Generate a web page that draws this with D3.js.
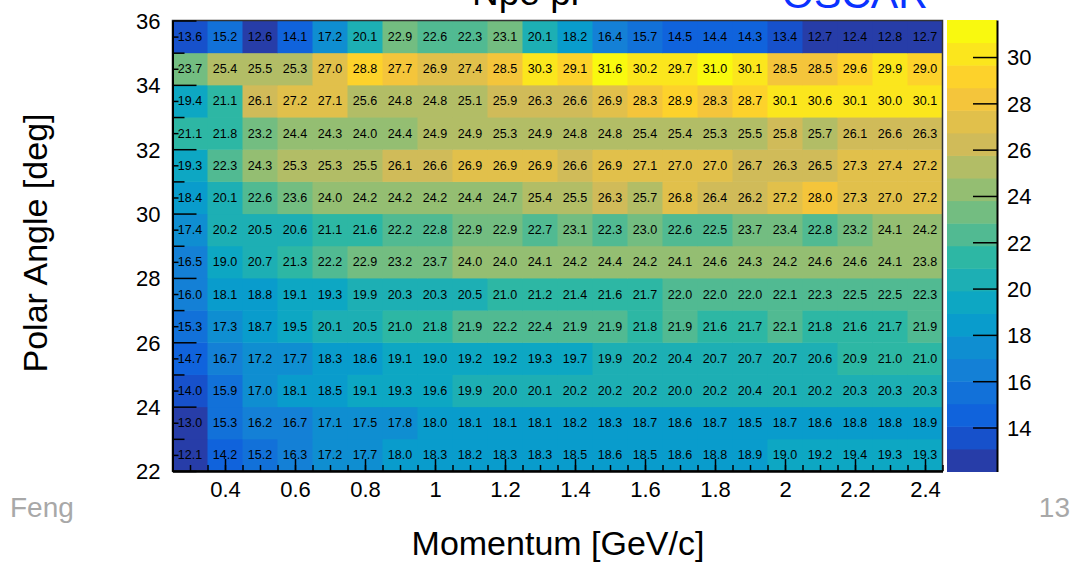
<!DOCTYPE html>
<html><head><meta charset="utf-8">
<script src="https://cdn.jsdelivr.net/npm/d3@7"></script>
<style>
html,body{margin:0;padding:0;background:#fff;}
svg{display:block;font-family:"Liberation Sans",Arial,Helvetica,sans-serif;}
</style></head>
<body>
<svg id="c" width="1076" height="562"></svg>
<script>
// Momentum bin centres [GeV/c] and polar angle bin centres [deg]
const momentum = [0.3,0.4,0.5,0.6,0.7,0.8,0.9,1.0,1.1,1.2,1.3,1.4,1.5,1.6,1.7,1.8,1.9,2.0,2.1,2.2,2.3,2.4];
const angles = [22.5,23.5,24.5,25.5,26.5,27.5,28.5,29.5,30.5,31.5,32.5,33.5,34.5,35.5];
// Npe per angle row (bottom to top)
const npe22 = [12.1,14.2,15.2,16.3,17.2,17.7,18.0,18.3,18.2,18.3,18.3,18.5,18.6,18.5,18.6,18.8,18.9,19.0,19.2,19.4,19.3,19.3];
const npe23 = [13.0,15.3,16.2,16.7,17.1,17.5,17.8,18.0,18.1,18.1,18.1,18.2,18.3,18.7,18.6,18.7,18.5,18.7,18.6,18.8,18.8,18.9];
const npe24 = [14.0,15.9,17.0,18.1,18.5,19.1,19.3,19.6,19.9,20.0,20.1,20.2,20.2,20.2,20.0,20.2,20.4,20.1,20.2,20.3,20.3,20.3];
const npe25 = [14.7,16.7,17.2,17.7,18.3,18.6,19.1,19.0,19.2,19.2,19.3,19.7,19.9,20.2,20.4,20.7,20.7,20.7,20.6,20.9,21.0,21.0];
const npe26 = [15.3,17.3,18.7,19.5,20.1,20.5,21.0,21.8,21.9,22.2,22.4,21.9,21.9,21.8,21.9,21.6,21.7,22.1,21.8,21.6,21.7,21.9];
const npe27 = [16.0,18.1,18.8,19.1,19.3,19.9,20.3,20.3,20.5,21.0,21.2,21.4,21.6,21.7,22.0,22.0,22.0,22.1,22.3,22.5,22.5,22.3];
const npe28 = [16.5,19.0,20.7,21.3,22.2,22.9,23.2,23.7,24.0,24.0,24.1,24.2,24.4,24.2,24.1,24.6,24.3,24.2,24.6,24.6,24.1,23.8];
const npe29 = [17.4,20.2,20.5,20.6,21.1,21.6,22.2,22.8,22.9,22.9,22.7,23.1,22.3,23.0,22.6,22.5,23.7,23.4,22.8,23.2,24.1,24.2];
const npe30 = [18.4,20.1,22.6,23.6,24.0,24.2,24.2,24.2,24.4,24.7,25.4,25.5,26.3,25.7,26.8,26.4,26.2,27.2,28.0,27.3,27.0,27.2];
const npe31 = [19.3,22.3,24.3,25.3,25.3,25.5,26.1,26.6,26.9,26.9,26.9,26.6,26.9,27.1,27.0,27.0,26.7,26.3,26.5,27.3,27.4,27.2];
const npe32 = [21.1,21.8,23.2,24.4,24.3,24.0,24.4,24.9,24.9,25.3,24.9,24.8,24.8,25.4,25.4,25.3,25.5,25.8,25.7,26.1,26.6,26.3];
const npe33 = [19.4,21.1,26.1,27.2,27.1,25.6,24.8,24.8,25.1,25.9,26.3,26.6,26.9,28.3,28.9,28.3,28.7,30.1,30.6,30.1,30.0,30.1];
const npe34 = [23.7,25.4,25.5,25.3,27.0,28.8,27.7,26.9,27.4,28.5,30.3,29.1,31.6,30.2,29.7,31.0,30.1,28.5,28.5,29.6,29.9,29.0];
const npe35 = [13.6,15.2,12.6,14.1,17.2,20.1,22.9,22.6,22.3,23.1,20.1,18.2,16.4,15.7,14.5,14.4,14.3,13.4,12.7,12.4,12.8,12.7];
const rows = [npe22,npe23,npe24,npe25,npe26,npe27,npe28,npe29,npe30,npe31,npe32,npe33,npe34,npe35];
const xTickLabels = [0.4,0.6,0.8,1,1.2,1.4,1.6,1.8,2,2.2,2.4];
const yTickLabels = [22,24,26,28,30,32,34,36];
const zTickLabels = [14,16,18,20,22,24,26,28,30];

// ROOT kBird palette
const stops = [0.0,0.125,0.25,0.375,0.5,0.625,0.75,0.875,1.0];
const red   = [0.2082,0.0592,0.0780,0.0232,0.1802,0.5301,0.8186,0.9956,0.9764];
const green = [0.1664,0.3599,0.5041,0.6419,0.7178,0.7492,0.7328,0.7862,0.9832];
const blue  = [0.5293,0.8684,0.8385,0.7914,0.6425,0.4662,0.3499,0.1968,0.0539];
function bird(t){
  let g=1; while(g<stops.length-1 && t>stops[g]) g++;
  const f=(t-stops[g-1])/(stops[g]-stops[g-1]);
  const c=a=>Math.round(255*(a[g-1]+f*(a[g]-a[g-1])));
  return `rgb(${c(red)},${c(green)},${c(blue)})`;
}
const allVals = rows.flat();
const zmin = d3.min(allVals), zmax = d3.max(allVals);
const nLev = 20, dz = (zmax-zmin)/nLev;
const bandColor = i => bird(Math.floor((i+0.99)*255/nLev)/255);
const band = v => Math.min(nLev-1, Math.max(0, Math.floor(0.01+(v-zmin)/dz)));

const svg = d3.select("#c");
const L=172.5, R=942.5, T=20.5, B=471;
const x = d3.scaleLinear().domain([0.25,2.45]).range([L,R]);
const y = d3.scaleLinear().domain([22,36]).range([B,T]);
const z = d3.scaleLinear().domain([zmin,zmax]).range([471.5,20]);

// cells
const cells = [];
rows.forEach((r,j)=>r.forEach((v,i)=>cells.push({p:momentum[i],a:angles[j],v})));
const g = svg.append("g");
g.selectAll("rect").data(cells).join("rect")
  .attr("x",d=>x(d.p-0.05)).attr("y",d=>y(d.a+0.5))
  .attr("width",d=>x(d.p+0.05)-x(d.p-0.05)+0.5).attr("height",d=>y(d.a-0.5)-y(d.a+0.5)+0.5)
  .attr("fill",d=>bandColor(band(d.v)));
g.selectAll("text").data(cells).join("text")
  .attr("x",d=>x(d.p)).attr("y",d=>y(d.a)).attr("dy","0.36em")
  .attr("text-anchor","middle").attr("font-size",12.5).attr("fill","#000")
  .text(d=>d.v.toFixed(1));

// frame
svg.append("rect").attr("x",L).attr("y",T).attr("width",R-L).attr("height",B-T)
  .attr("fill","none").attr("stroke","#333").attr("stroke-width",1.5);

function styleAxis(sel, fs){
  sel.selectAll("path").attr("stroke","#000").attr("stroke-width",2);
  sel.selectAll("line").attr("stroke","#000").attr("stroke-width",1.5);
  sel.selectAll("text").attr("font-size",fs).attr("fill","#000").attr("font-family","'Liberation Sans',Arial,Helvetica,sans-serif");
}
// x axis
const xMinor = d3.range(0.3,2.451,0.05).map(v=>+v.toFixed(2));
const ax1 = svg.append("g").attr("transform",`translate(0,${B})`)
  .call(d3.axisBottom(x).tickValues(xMinor).tickSizeInner(-6).tickSizeOuter(0).tickFormat(""));
styleAxis(ax1,0);
const ax2 = svg.append("g").attr("transform",`translate(0,${B})`)
  .call(d3.axisBottom(x).tickValues(xTickLabels).tickSizeInner(-12).tickSizeOuter(0).tickPadding(10).tickFormat(d3.format("")));
styleAxis(ax2,22);
// y axis
const yHalf = d3.range(22.5,36,1);
const yOdd = d3.range(23,36,2);
const ay1 = svg.append("g").attr("transform",`translate(${L},0)`)
  .call(d3.axisLeft(y).tickValues(yHalf).tickSizeInner(-6).tickSizeOuter(0).tickFormat(""));
styleAxis(ay1,0);
const ay2 = svg.append("g").attr("transform",`translate(${L},0)`)
  .call(d3.axisLeft(y).tickValues(yOdd).tickSizeInner(-12).tickSizeOuter(0).tickFormat(""));
styleAxis(ay2,0);
const ay3 = svg.append("g").attr("transform",`translate(${L},0)`)
  .call(d3.axisLeft(y).tickValues(yTickLabels).tickSizeInner(-24).tickSizeOuter(0).tickPadding(12));
styleAxis(ay3,22);
ay3.selectAll("text").attr("dy","0.36em");

// colour bar
const CL=947, CR=997;
svg.append("g").selectAll("rect").data(d3.range(nLev)).join("rect")
  .attr("x",CL).attr("width",CR-CL)
  .attr("y",i=>z(zmin+(i+1)*dz)).attr("height",i=>z(zmin+i*dz)-z(zmin+(i+1)*dz)+0.5)
  .attr("fill",i=>bandColor(i));
const az = svg.append("g").attr("transform",`translate(${CR},0)`)
  .call(d3.axisRight(z).tickValues(zTickLabels).tickSizeInner(-24).tickSizeOuter(0).tickPadding(10));
styleAxis(az,22);
az.selectAll("text").attr("dy","0.36em");

// labels
svg.append("text").attr("x",558).attr("y",555).attr("text-anchor","middle")
  .attr("font-size",34).text("Momentum [GeV/c]");
svg.append("text").attr("transform","translate(47,243) rotate(-90)").attr("text-anchor","middle")
  .attr("font-size",34).text("Polar Angle [deg]");
svg.append("text").attr("x",472).attr("y",5).attr("font-size",37).text("Npe pi");
svg.append("text").attr("x",782).attr("y",8).attr("font-size",41).attr("fill","#0a32ff").text("OSCAR");
svg.append("text").attr("x",10).attr("y",517).attr("font-size",28).attr("fill","#a8a8a8").text("Feng");
svg.append("text").attr("x",1070).attr("y",517).attr("text-anchor","end").attr("font-size",28).attr("fill","#a8a8a8").text("13");
</script>
</body></html>
